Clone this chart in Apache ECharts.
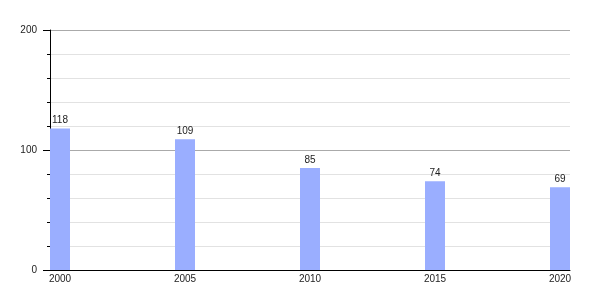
<!DOCTYPE html>
<html><head><meta charset="utf-8">
<script src="https://cdn.jsdelivr.net/npm/echarts@6/dist/echarts.min.js"></script>
<style>html,body{margin:0;padding:0;background:#fff}#c{width:600px;height:300px}</style>
</head><body><div id="c"></div>
<script>
var years = [2000, 2005, 2010, 2015, 2020];
var values = [118, 109, 85, 74, 69];
var yTicks = [0, 100, 200];

var chart = echarts.init(document.getElementById('c'), null, {renderer: 'canvas'});
chart.setOption({
  animation: false,
  backgroundColor: '#fff',
  grid: {left: 50, right: 30, top: 30, bottom: 30, containLabel: false},
  xAxis: {
    type: 'value', min: 1999.6, max: 2020.4,
    axisLine: {show: true, onZero: false, lineStyle: {color: '#000', width: 1}},
    axisTick: {show: false},
    splitLine: {show: false},
    axisLabel: {customValues: years, formatter: function (v) { return String(Math.round(v)); }, color: '#222', fontSize: 10, margin: 4, fontFamily: 'Liberation Sans, Arial, sans-serif'}
  },
  yAxis: {
    type: 'value', min: 0, max: 200, interval: 100,
    axisLine: {show: true, lineStyle: {color: '#000', width: 1}},
    axisTick: {show: true, length: 7, lineStyle: {color: '#000'}},
    minorTick: {show: true, splitNumber: 5, length: 3, lineStyle: {color: '#000'}},
    splitLine: {show: true, lineStyle: {color: '#aaa', width: 1}},
    minorSplitLine: {show: true, lineStyle: {color: '#e2e2e2', width: 1}},
    axisLabel: {color: '#222', fontSize: 10, margin: 13, fontFamily: 'Liberation Sans, Arial, sans-serif'}
  },
  series: [{
    type: 'bar',
    barWidth: 20,
    data: years.map(function (y, i) { return [y, values[i]]; }),
    itemStyle: {color: '#9aaeff'},
    label: {show: true, position: 'top', distance: 3, color: '#222', fontSize: 10, fontFamily: 'Liberation Sans, Arial, sans-serif'}
  }]
});
</script></body></html>
